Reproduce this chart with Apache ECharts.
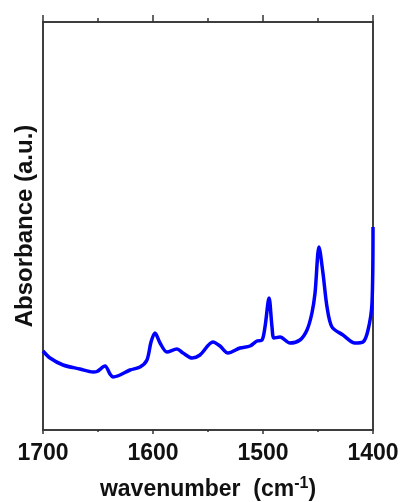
<!DOCTYPE html>
<html>
<head>
<meta charset="utf-8">
<script src="https://cdn.jsdelivr.net/npm/echarts@6/dist/echarts.min.js"></script>
<style>
	html, body { margin: 0; padding: 0; background: #fff; }
	#chart { width: 401px; height: 502px; }
</style>
</head>
<body>
<div id="chart"></div>
<script>
var wavenumber = [1700, 1693.6, 1681.8, 1666.4, 1654.5, 1650.9, 1643.6, 1639.1, 1636.4, 1630, 1620.9,
	1611.8, 1605.5, 1601.8, 1598.2, 1593.6, 1587.3, 1578.2, 1572.7, 1564.5, 1557.3, 1545.5, 1539.1,
	1531.8, 1520.9, 1511.8, 1505.5, 1500.9, 1498.2, 1494.5, 1491.8, 1490, 1484.5, 1475.5, 1466.4,
	1460, 1455.5, 1452.7, 1449.1, 1445.5, 1441.8, 1437.3, 1427.3, 1416.4, 1409.1, 1404.5, 1400.9, 1400];
var absorbance = [79, 72, 65, 61, 58, 58.5, 64, 56, 53, 55, 60,
	63, 70, 88, 97, 87, 78, 81, 77, 72, 75, 88, 84,
	77, 82, 84, 89, 90, 103, 132, 103, 92, 93, 87, 90,
	100, 117, 137, 183, 157, 123, 103, 95, 87, 88, 100, 127, 203];
var xTicks = [1400, 1500, 1600, 1700];

var axisColor = '#333';
var labelFont = 'Arial, "Liberation Sans", sans-serif';

function buildData(xs, ys) {
	var data = [];
	for (var i = 0; i < xs.length; i++) {
		data.push([xs[i], ys[i]]);
	}
	return data;
}

function frameAxisLine() {
	return { show : true, onZero : false, lineStyle : { color : axisColor, width : 1.5 } };
}

var myChart = echarts.init(document.getElementById('chart'));
myChart.setOption({
	animation : false,
	grid : {
		left : 43,
		right : 28,
		top : 22,
		bottom : 72,
		show : true,
		borderColor : axisColor,
		borderWidth : 1.5,
		containLabel : false,
		outerBoundsMode : 'none'
	},
	xAxis : [ {
		type : 'value',
		inverse : true,
		min : xTicks[0],
		max : xTicks[xTicks.length - 1],
		interval : 100,
		position : 'bottom',
		splitLine : { show : false },
		axisLine : frameAxisLine(),
		axisTick : { show : true, length : 4, lineStyle : { color : axisColor, width : 1.5 } },
		minorTick : { show : true, splitNumber : 2, length : 2, lineStyle : { color : axisColor, width : 1.5 } },
		axisLabel : {
			margin : 12,
			color : '#111',
			fontSize : 23,
			fontWeight : 'bold',
			fontFamily : labelFont,
			formatter : function (v) { return String(v); }
		},
		name : '{n|wavenumber  (cm}{s|-1}{n|)}',
		nameLocation : 'middle',
		nameGap : 46,
		nameTextStyle : {
			rich : {
				n : { fontSize : 23, fontWeight : 'bold', fontFamily : labelFont, color : '#111' },
				s : { fontSize : 16, fontWeight : 'bold', fontFamily : labelFont, color : '#111', verticalAlign : 'top', padding : [0, 0, 12, 0] }
			}
		}
	}, {
		type : 'value',
		inverse : true,
		min : xTicks[0],
		max : xTicks[xTicks.length - 1],
		interval : 100,
		position : 'top',
		splitLine : { show : false },
		axisLine : frameAxisLine(),
		axisTick : { show : true, length : 7, lineStyle : { color : axisColor, width : 1.5 } },
		minorTick : { show : true, splitNumber : 2, length : 4, lineStyle : { color : axisColor, width : 1.5 } },
		axisLabel : { show : false }
	} ],
	yAxis : [ {
		type : 'value',
		min : 0,
		max : 408,
		position : 'left',
		splitLine : { show : false },
		axisLine : frameAxisLine(),
		axisTick : { show : false },
		axisLabel : { show : false },
		name : 'Absorbance (a.u.)',
		nameLocation : 'middle',
		nameGap : 6,
		nameTextStyle : {
			fontSize : 24,
			fontWeight : 'bold',
			fontFamily : labelFont,
			color : '#111'
		}
	}, {
		type : 'value',
		min : 0,
		max : 408,
		position : 'right',
		splitLine : { show : false },
		axisLine : frameAxisLine(),
		axisTick : { show : false },
		axisLabel : { show : false }
	} ],
	series : [ {
		type : 'line',
		xAxisIndex : 0,
		yAxisIndex : 0,
		data : buildData(wavenumber, absorbance),
		smooth : 0.3,
		showSymbol : false,
		lineStyle : { color : '#0000ff', width : 3.5 }
	} ]
});
</script>
</body>
</html>
